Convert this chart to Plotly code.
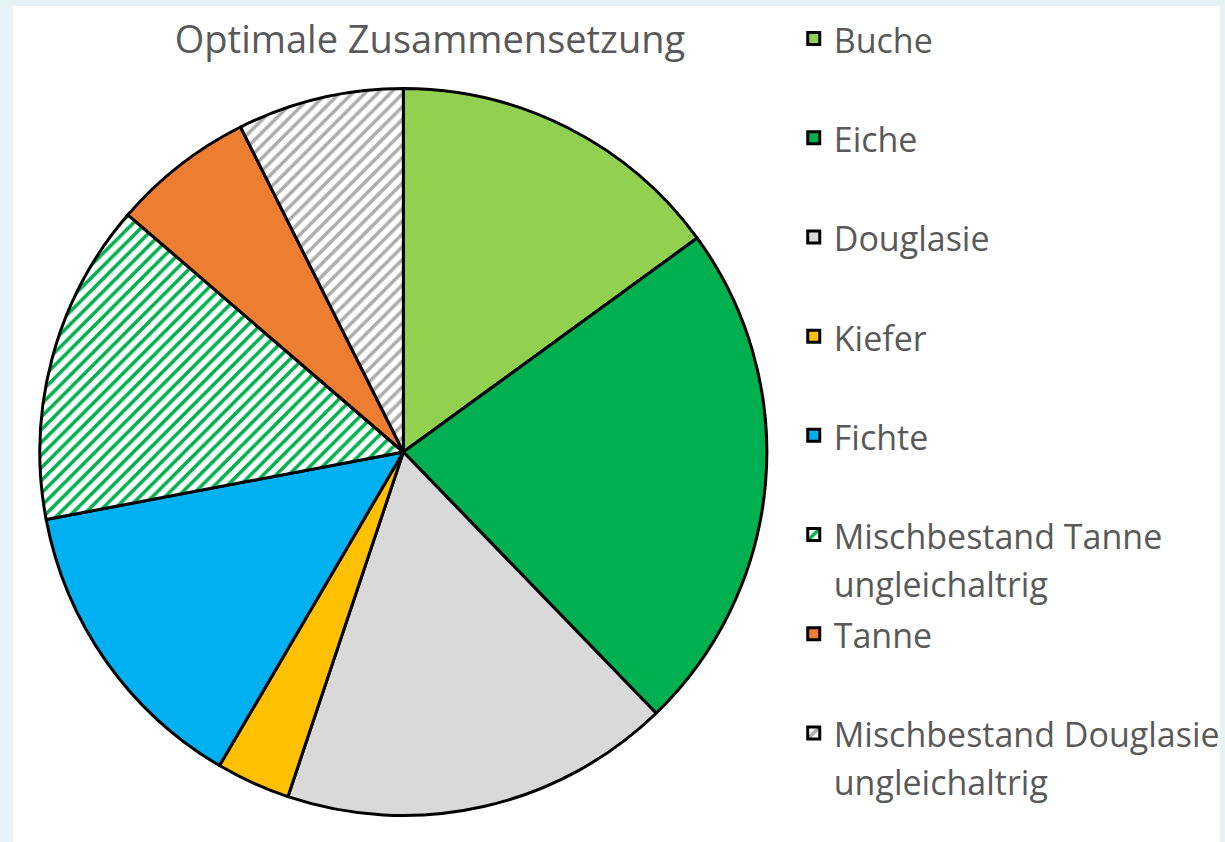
import plotly.graph_objects as go

categories = ["Buche", "Eiche", "Douglasie", "Kiefer", "Fichte",
              "Mischbestand Tanne<br>ungleichaltrig", "Tanne",
              "Mischbestand Douglasie<br>ungleichaltrig"]
values = [15.0, 22.8, 17.4, 3.3, 13.6, 14.3, 6.3, 7.4]
fill_colors = ["#92D050", "#00B050", "#D9D9D9", "#FFC000", "#00B0F0",
               "#FFFFFF", "#ED7D31", "#FFFFFF"]
pattern_shapes = ["", "", "", "", "", "/", "", "/"]
pattern_fg = ["#92D050", "#00B050", "#D9D9D9", "#FFC000", "#00B0F0",
              "#00B050", "#ED7D31", "#ADADAD"]
title_text = "Optimale Zusammensetzung"

TEXT_GRAY = "#595959"
FONT = "Open Sans"

# legend entries: every entry occupies two lines so all slots are equal height
legend_labels = []
for c in categories:
    parts = c.split("<br>")
    if len(parts) == 1:
        parts.append("&nbsp;")
    legend_labels.append("<br>".join(
        f'<span style="font-size:34px">{p}</span>' for p in parts))

W, H = 1225, 842
cx, cy, r = 405, 452, 365

fig = go.Figure(go.Pie(
    labels=legend_labels,
    values=values,
    sort=False,
    direction="clockwise",
    rotation=0,
    textinfo="none",
    hoverinfo="label+percent",
    marker=dict(
        colors=fill_colors,
        line=dict(color="#000000", width=3),
        pattern=dict(shape=pattern_shapes, fgcolor=pattern_fg,
                     bgcolor=fill_colors, size=9, solidity=0.4),
    ),
    domain=dict(x=[(cx - r) / W, (cx + r) / W], y=[1 - (cy + r) / H, 1 - (cy - r) / H]),
))

fig.update_layout(
    width=W, height=H,
    margin=dict(l=0, r=0, t=0, b=0),
    paper_bgcolor="#E6F3F6",
    plot_bgcolor="#FFFFFF",
    shapes=[dict(type="rect", xref="paper", yref="paper", x0=13 / W, x1=1,
                 y0=0, y1=1 - 6 / H, fillcolor="#FFFFFF", line_width=0, layer="below")],
    title=dict(text=title_text, x=430 / W, xanchor="center", y=1 - 40 / H, yanchor="middle",
               font=dict(family=FONT, size=38, color=TEXT_GRAY)),
    legend=dict(
        x=797 / W, xanchor="left", y=1 - 8 / H, yanchor="top",
        font=dict(family=FONT, size=37, color=TEXT_GRAY),
        valign="top", bgcolor="rgba(0,0,0,0)", traceorder="normal",
    ),
    font=dict(family=FONT, color=TEXT_GRAY),
)

fig.write_html("out.html",
               config={"displayModeBar": False},
               post_script="document.body.style.margin='0';document.body.style.overflow='hidden';")
